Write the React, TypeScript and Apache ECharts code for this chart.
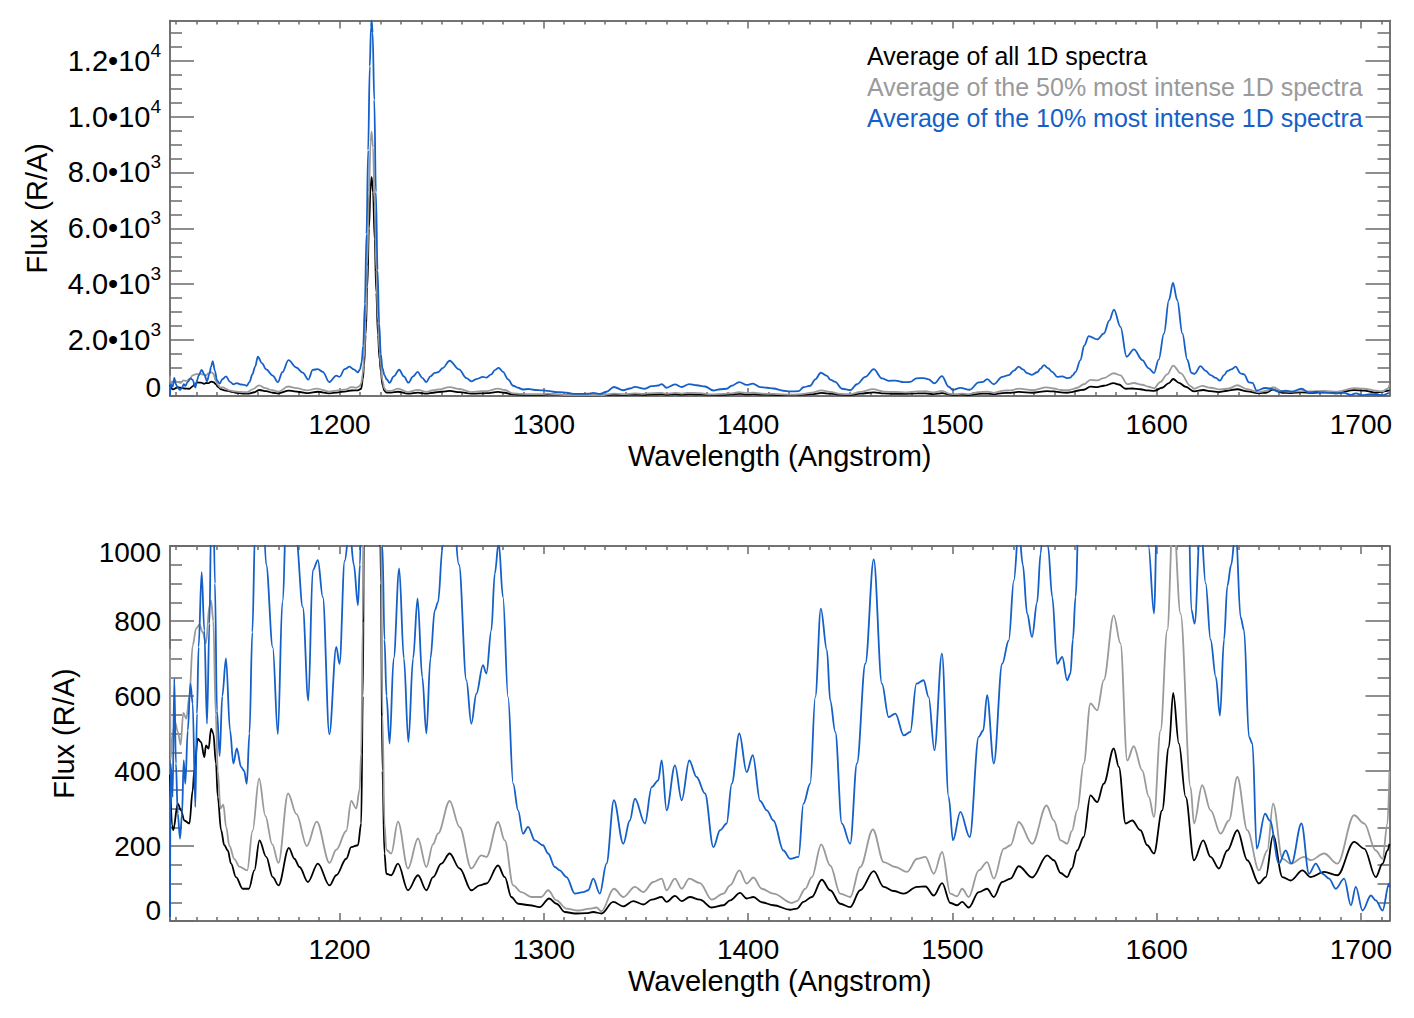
import React, { useEffect, useRef } from "react";
import * as echarts from "echarts";

// ---------- data (wavelength in Angstrom, flux in R/A) ----------
const blackSpectrum: [number, number][] = [
  [1117.0, 390], [1118.0, 255], [1118.6, 242], [1120.8, 313], [1122.4, 295], [1124.0, 268],
  [1126.5, 260], [1128.1, 348], [1128.9, 402], [1130.6, 486], [1132.2, 477], [1133.8, 437],
  [1134.6, 468], [1135.9, 460], [1137.1, 513], [1138.2, 500], [1139.5, 420], [1140.4, 331],
  [1142.0, 242], [1143.6, 202], [1145.3, 188], [1146.9, 153], [1149.3, 117], [1152.6, 86],
  [1155.6, 86], [1158.3, 135], [1160.8, 215], [1164.1, 171], [1167.3, 117], [1170.1, 95],
  [1175.2, 195], [1177.9, 166], [1180.4, 144], [1184.5, 104], [1189.4, 153], [1195.1, 95],
  [1198.4, 122], [1203.3, 166], [1205.7, 197], [1209.0, 202], [1210.6, 260], [1211.4, 600],
  [1212.0, 1100], [1212.8, 2200], [1213.6, 3900], [1214.4, 6000], [1215.2, 7500], [1215.7, 7830],
  [1216.4, 7300], [1217.2, 5600], [1218.0, 3700], [1218.8, 2200], [1219.6, 1300], [1220.2, 900],
  [1221.0, 400], [1222.0, 180], [1222.9, 126], [1225.3, 122], [1228.6, 153], [1233.5, 82],
  [1238.4, 122], [1242.5, 82], [1245.8, 117], [1249.8, 153], [1253.9, 180], [1258.8, 140],
  [1264.5, 82], [1268.6, 95], [1271.9, 100], [1277.6, 148], [1280.9, 117], [1284.1, 64],
  [1287.4, 46], [1293.1, 42], [1298.0, 37], [1302.6, 60], [1306.2, 46], [1310.3, 24],
  [1315.2, 20], [1320.9, 21], [1324.2, 24], [1328.2, 20], [1334.0, 51], [1338.9, 39],
  [1343.8, 53], [1348.7, 44], [1352.8, 57], [1357.7, 64], [1360.1, 51], [1364.2, 67],
  [1367.5, 53], [1371.5, 64], [1376.4, 57], [1382.2, 36], [1387.9, 42], [1391.2, 55],
  [1396.1, 75], [1399.3, 60], [1402.6, 64], [1406.7, 50], [1412.4, 42], [1420.6, 30],
  [1423.9, 33], [1427.1, 51], [1431.2, 64], [1436.1, 110], [1440.2, 82], [1445.1, 46],
  [1450.0, 37], [1454.9, 82], [1461.5, 133], [1466.4, 91], [1471.3, 80], [1476.2, 73],
  [1482.7, 91], [1486.8, 92], [1490.9, 68], [1495.0, 101], [1499.0, 48], [1502.3, 42],
  [1504.8, 51], [1508.0, 36], [1512.9, 77], [1517.0, 86], [1520.3, 64], [1524.4, 104],
  [1528.5, 113], [1532.5, 146], [1539.1, 116], [1546.4, 175], [1549.7, 162], [1553.0, 128],
  [1556.2, 117], [1558.5, 140], [1561.1, 188], [1564.3, 224], [1567.6, 335], [1570.9, 317],
  [1574.1, 366], [1579.0, 460], [1581.5, 411], [1584.8, 260], [1588.0, 268], [1592.1, 242],
  [1595.4, 202], [1598.7, 180], [1602.7, 295], [1606.0, 464], [1608.1, 608], [1610.9, 473],
  [1614.2, 331], [1618.3, 162], [1622.8, 215], [1626.4, 171], [1630.5, 140], [1634.6, 188],
  [1639.5, 242], [1644.4, 162], [1650.1, 100], [1653.4, 117], [1657.0, 228], [1661.6, 117],
  [1665.6, 108], [1671.4, 135], [1675.4, 117], [1682.0, 131], [1688.5, 122], [1696.7, 211],
  [1701.6, 193], [1707.3, 117], [1710.6, 153], [1713.0, 188], [1714.0, 206],
];

const graySpectrum: [number, number][] = [
  [1117.0, 726], [1117.3, 430], [1118.0, 490], [1119.5, 530], [1120.8, 505], [1122.2, 470],
  [1123.5, 555], [1125.0, 540], [1126.5, 600], [1128.1, 735], [1129.8, 780], [1131.4, 790],
  [1133.0, 770], [1134.6, 740], [1136.3, 840], [1137.1, 855], [1138.2, 800], [1139.4, 550],
  [1140.4, 400], [1141.7, 300], [1143.1, 310], [1144.5, 250], [1146.1, 200], [1148.5, 165],
  [1151.0, 145], [1154.8, 135], [1157.4, 240], [1160.6, 380], [1163.7, 280], [1167.0, 205],
  [1170.1, 155], [1174.8, 340], [1178.9, 285], [1184.0, 200], [1188.8, 265], [1195.1, 155],
  [1198.4, 190], [1203.3, 240], [1205.7, 320], [1208.2, 300], [1209.8, 350], [1210.6, 450],
  [1211.4, 800], [1212.0, 1350], [1212.8, 2700], [1213.6, 4700], [1214.4, 7300], [1215.2, 9100],
  [1215.7, 9460], [1216.4, 8900], [1217.2, 6800], [1218.0, 4500], [1218.8, 2700], [1219.6, 1600],
  [1220.2, 1100], [1221.0, 550], [1222.0, 260], [1222.9, 190], [1225.3, 180], [1228.6, 265],
  [1233.5, 140], [1238.4, 220], [1242.5, 144], [1245.8, 205], [1248.2, 233], [1253.9, 320],
  [1258.8, 250], [1264.5, 140], [1269.4, 175], [1271.9, 171], [1277.6, 264], [1280.9, 215],
  [1285.0, 95], [1289.0, 77], [1293.9, 64], [1298.8, 64], [1302.1, 82], [1306.2, 55],
  [1311.1, 33], [1316.8, 28], [1322.5, 33], [1325.8, 36], [1328.2, 26], [1334.3, 86],
  [1338.9, 64], [1344.6, 91], [1348.7, 77], [1353.6, 104], [1357.7, 113], [1360.1, 82],
  [1364.2, 113], [1367.5, 86], [1371.2, 113], [1376.4, 101], [1382.2, 57], [1387.9, 73],
  [1391.2, 95], [1395.7, 135], [1399.3, 100], [1402.6, 116], [1406.7, 86], [1412.4, 73],
  [1421.4, 48], [1423.9, 53], [1428.0, 86], [1431.2, 117], [1435.8, 204], [1440.2, 148],
  [1445.1, 73], [1450.0, 64], [1454.9, 144], [1461.1, 244], [1466.4, 157], [1472.1, 144],
  [1477.8, 131], [1482.7, 166], [1486.8, 171], [1490.9, 126], [1495.0, 184], [1499.0, 73],
  [1502.3, 66], [1504.8, 86], [1508.0, 64], [1512.9, 135], [1517.0, 157], [1520.3, 113],
  [1525.2, 193], [1528.5, 202], [1532.5, 264], [1539.1, 206], [1546.1, 308], [1549.7, 268],
  [1553.0, 215], [1556.2, 206], [1558.5, 240], [1561.1, 295], [1564.3, 420], [1567.6, 580],
  [1570.9, 562], [1574.1, 642], [1579.0, 815], [1582.3, 740], [1585.6, 428], [1588.8, 466],
  [1592.9, 402], [1596.2, 331], [1598.7, 277], [1601.9, 508], [1605.2, 775], [1608.1, 1090],
  [1611.7, 820], [1616.6, 357], [1618.3, 260], [1622.3, 362], [1626.4, 295], [1631.3, 233],
  [1635.4, 268], [1639.5, 384], [1644.4, 242], [1650.1, 135], [1654.2, 188], [1657.0, 313],
  [1661.6, 166], [1665.6, 153], [1672.2, 171], [1675.4, 162], [1682.0, 180], [1688.5, 153],
  [1696.7, 282], [1701.6, 260], [1707.3, 188], [1710.6, 166], [1713.0, 260], [1714.0, 400],
];

const blueSpectrum: [number, number][] = [
  [1117.0, 11], [1117.3, 420], [1118.3, 331], [1119.1, 646], [1119.9, 420], [1120.8, 286],
  [1121.9, 220], [1122.9, 286], [1123.7, 428], [1124.5, 366], [1125.7, 508], [1127.0, 633],
  [1128.1, 580], [1129.4, 304], [1130.2, 553], [1131.0, 731], [1132.5, 930], [1133.8, 775],
  [1135.1, 526], [1136.3, 793], [1137.1, 1050], [1137.9, 1250], [1139.0, 900], [1140.0, 560],
  [1141.3, 440], [1142.6, 600], [1144.4, 700], [1146.4, 508], [1148.0, 420], [1149.7, 460],
  [1151.8, 411], [1153.3, 400], [1154.6, 366], [1155.9, 500], [1157.3, 770], [1158.7, 1050],
  [1160.0, 1405], [1162.0, 1180], [1164.1, 950], [1167.3, 730], [1169.8, 498], [1172.0, 850],
  [1175.0, 1286], [1178.8, 1020], [1182.0, 837], [1184.7, 588], [1186.9, 935], [1189.4, 962],
  [1191.8, 864], [1195.0, 498], [1198.4, 731], [1200.0, 686], [1202.5, 960], [1204.9, 1048],
  [1207.0, 950], [1209.0, 842], [1210.0, 950], [1210.8, 1200], [1211.6, 1800], [1212.4, 3300],
  [1213.2, 5800], [1214.0, 8800], [1214.8, 11800], [1215.4, 13200], [1215.7, 13440], [1216.2, 13000],
  [1217.0, 10600], [1217.8, 7300], [1218.6, 4500], [1219.4, 2600], [1220.2, 1500], [1221.0, 1000],
  [1222.0, 750], [1223.0, 600], [1224.5, 473], [1226.5, 700], [1229.2, 940], [1231.5, 700],
  [1233.7, 477], [1236.0, 700], [1238.2, 860], [1240.5, 650], [1242.5, 500], [1244.5, 700],
  [1246.6, 828], [1248.2, 850], [1250.5, 1000], [1253.9, 1262], [1258.5, 950], [1262.1, 642],
  [1264.5, 526], [1267.0, 606], [1270.2, 682], [1271.9, 660], [1274.3, 775], [1276.0, 926],
  [1277.9, 1010], [1280.0, 864], [1282.5, 597], [1285.0, 366], [1287.4, 295], [1289.8, 233],
  [1292.3, 251], [1295.6, 215], [1299.6, 202], [1302.1, 180], [1305.4, 144], [1307.8, 135],
  [1311.1, 117], [1315.2, 73], [1319.3, 77], [1321.7, 82], [1324.2, 113], [1327.4, 73],
  [1330.7, 153], [1334.3, 322], [1338.9, 206], [1342.1, 268], [1344.6, 326], [1349.5, 260],
  [1352.8, 357], [1356.0, 375], [1357.7, 428], [1360.1, 295], [1364.2, 415], [1367.5, 322],
  [1371.2, 428], [1374.8, 384], [1378.9, 340], [1383.0, 197], [1386.3, 242], [1389.5, 260],
  [1392.0, 366], [1395.7, 500], [1399.3, 397], [1402.3, 442], [1405.9, 320], [1409.2, 295],
  [1412.4, 268], [1417.3, 188], [1420.6, 166], [1424.7, 171], [1427.1, 313], [1430.4, 366],
  [1432.9, 597], [1435.6, 833], [1438.6, 722], [1440.2, 588], [1442.7, 504], [1445.9, 260],
  [1450.0, 206], [1453.3, 420], [1457.4, 686], [1461.5, 964], [1465.5, 633], [1468.8, 544],
  [1472.1, 553], [1476.2, 495], [1479.4, 504], [1482.4, 633], [1485.9, 642], [1488.4, 597],
  [1491.2, 455], [1494.9, 713], [1498.2, 331], [1500.3, 215], [1503.9, 291], [1508.5, 224],
  [1512.9, 491], [1515.1, 508], [1517.0, 602], [1520.3, 420], [1524.4, 686], [1527.6, 748],
  [1530.1, 908], [1532.5, 1048], [1534.5, 950], [1536.6, 820], [1539.0, 757], [1541.5, 850],
  [1543.2, 980], [1544.9, 1107], [1546.8, 1000], [1548.9, 864], [1551.3, 686], [1553.8, 704],
  [1556.2, 642], [1557.8, 660], [1559.0, 750], [1560.3, 864], [1562.7, 1286], [1564.5, 1800],
  [1566.8, 2143], [1570.9, 2024], [1574.2, 2238], [1576.8, 2700], [1579.1, 3095], [1582.3, 2476],
  [1585.3, 1405], [1588.9, 1667], [1593.0, 1286], [1596.0, 1000], [1598.7, 820], [1601.0, 1300],
  [1603.6, 2238], [1606.0, 3429], [1608.0, 4048], [1610.1, 3429], [1612.6, 2238], [1615.0, 1300],
  [1617.0, 830], [1618.6, 793], [1621.5, 1071], [1624.0, 900], [1626.4, 750], [1629.0, 650],
  [1631.0, 548], [1633.0, 750], [1634.6, 893], [1636.5, 950], [1638.7, 1048], [1641.1, 810],
  [1642.8, 775], [1645.2, 491], [1646.9, 473], [1649.0, 193], [1653.1, 286], [1655.4, 268],
  [1659.9, 153], [1663.2, 188], [1666.0, 153], [1670.9, 260], [1674.6, 126], [1677.9, 153],
  [1681.2, 126], [1684.4, 113], [1687.7, 86], [1691.8, 113], [1695.1, 42], [1697.5, 91],
  [1700.8, 28], [1704.9, 68], [1707.3, 55], [1710.6, 28], [1713.8, 100], [1714.0, 90],
];

const seriesNames = [
  "Average of all 1D spectra",
  "Average of the 50% most intense 1D spectra",
  "Average of the 10% most intense 1D spectra",
];
const seriesColors = ["#000000", "#9a9a9a", "#1560c8"];

const wavelengthTicks = [1200, 1300, 1400, 1500, 1600, 1700];
const topFluxTicks = [0, 2000, 4000, 6000, 8000, 10000, 12000];
const topFluxTickLabels: [string, string][] = [
  ["0", ""], ["2.0•10", "3"], ["4.0•10", "3"], ["6.0•10", "3"],
  ["8.0•10", "3"], ["1.0•10", "4"], ["1.2•10", "4"],
];
const bottomFluxTicks = [0, 200, 400, 600, 800, 1000];
const bottomFluxTickLabels = ["0", "200", "400", "600", "800", "1000"];

const X_MIN = 1117;
const X_MAX = 1714;
const TOP_Y_MAX = 13440;
const BOTTOM_Y_MAX = 1000;

// ---------- helpers ----------
const FONT = '"Liberation Sans", Arial, Helvetica, sans-serif';
const AXIS_COLOR = "#6a6a6a";

function stepList(start: number, stop: number, step: number, skip: number) {
  const out: number[] = [];
  for (let v = start; v <= stop + 1e-9; v += step) {
    if (Math.abs(v % skip) > 1e-6) out.push(v);
  }
  return out;
}

const xMinorTicks = stepList(1120, 1710, 10, 100);
const topYMinorTicks = stepList(500, 13000, 500, 2000);
const bottomYMinorTicks = stepList(50, 950, 50, 200);

function buildPanel(
  g: number,
  yMax: number,
  yMajor: number[],
  yMinor: number[],
  yFormatter: (v: number) => string,
  yRich: any,
  yNameGap: number
) {
  const lineStyle = { color: AXIS_COLOR, width: 1.5 };
  const axisLine = { show: true, onZero: false, lineStyle };
  const xBase = {
    type: "value",
    gridIndex: g,
    min: X_MIN,
    max: X_MAX,
    splitLine: { show: false },
    axisPointer: { show: false },
    nameMoveOverlap: false,
  };
  const yBase = {
    type: "value",
    gridIndex: g,
    min: 0,
    max: yMax,
    splitLine: { show: false },
    nameMoveOverlap: false,
  };
  const tick = (vals: number[], len: number) => ({
    show: true,
    inside: true,
    length: len,
    customValues: vals,
    lineStyle,
  });
  const xAxes = [
    {
      ...xBase,
      position: "bottom",
      axisLine,
      axisTick: tick(wavelengthTicks, 8),
      axisLabel: {
        show: true,
        customValues: wavelengthTicks,
        margin: 14,
        fontSize: 28,
        fontFamily: FONT,
        color: "#000",
        formatter: (v: number) => String(v),
      },
      name: "Wavelength (Angstrom)",
      nameLocation: "middle",
      nameGap: 45,
      nameTextStyle: { fontSize: 29, fontFamily: FONT, color: "#000" },
    },
    { ...xBase, position: "bottom", axisLine, axisTick: tick(xMinorTicks, 4), axisLabel: { show: false } },
    { ...xBase, position: "top", axisLine, axisTick: tick(wavelengthTicks, 8), axisLabel: { show: false } },
    { ...xBase, position: "top", axisLine, axisTick: tick(xMinorTicks, 4), axisLabel: { show: false } },
  ];
  const yAxes = [
    {
      ...yBase,
      position: "left",
      axisLine,
      axisTick: tick(yMajor, 24),
      axisLabel: {
        show: true,
        customValues: yMajor,
        margin: 9,
        fontSize: 28,
        fontFamily: FONT,
        color: "#000",
        formatter: yFormatter,
        rich: yRich,
      },
      name: "Flux (R/A)",
      nameLocation: "middle",
      nameGap: yNameGap,
      nameTextStyle: { fontSize: 29, fontFamily: FONT, color: "#000" },
    },
    { ...yBase, position: "left", axisLine, axisTick: tick(yMinor, 12), axisLabel: { show: false } },
    { ...yBase, position: "right", axisLine, axisTick: tick(yMajor, 24), axisLabel: { show: false } },
    { ...yBase, position: "right", axisLine, axisTick: tick(yMinor, 12), axisLabel: { show: false } },
  ];
  const spectra = [blackSpectrum, graySpectrum, blueSpectrum];
  const series = spectra.map((d, i) => ({
    type: "line",
    name: seriesNames[i],
    xAxisIndex: g * 4,
    yAxisIndex: g * 4,
    data: d,
    showSymbol: false,
    symbol: "none",
    clip: true,
    smooth: 0.35,
    smoothMonotone: "x",
    lineStyle: { color: seriesColors[i], width: 1.8 },
    itemStyle: { color: seriesColors[i] },
    z: 2 + i,
  }));
  return { xAxes, yAxes, series };
}

export default function App() {
  const ref = useRef<HTMLDivElement>(null);

  useEffect(() => {
    if (!ref.current) return;
    const chart = echarts.init(ref.current, undefined, { renderer: "svg" });

    const baseTok = { fontSize: 28, fontFamily: FONT, color: "#000" };
    const topRich = {
      a: { fontSize: 29, fontFamily: FONT, color: "#000", lineHeight: 40 },
      s: { fontSize: 19, fontFamily: FONT, color: "#000", lineHeight: 25, verticalAlign: "top" },
      lo: { ...baseTok, padding: [0, 0, 18, 0] },
    };
    const topFmt = (v: number) => {
      const i = topFluxTicks.indexOf(v);
      if (i < 0) return "";
      const [m, e] = topFluxTickLabels[i];
      if (v === 0) return `{lo|${m}}`;
      return `{a|${m}}{s|${e}}`;
    };
    const bottomRich = {
      n: { ...baseTok },
      lo: { ...baseTok, padding: [0, 0, 22, 0] },
      hi: { ...baseTok, padding: [12, 0, 0, 0] },
    };
    const bottomFmt = (v: number) => {
      const i = bottomFluxTicks.indexOf(v);
      if (i < 0) return "";
      const t = bottomFluxTickLabels[i];
      if (v === 0) return `{lo|${t}}`;
      if (v === BOTTOM_Y_MAX) return `{hi|${t}}`;
      return `{n|${t}}`;
    };

    const p0 = buildPanel(0, TOP_Y_MAX, topFluxTicks, topYMinorTicks, topFmt, topRich, 119);
    const p1 = buildPanel(1, BOTTOM_Y_MAX, bottomFluxTicks, bottomYMinorTicks, bottomFmt, bottomRich, 92);

    const legendY = [58, 89.5, 120.5];

    chart.setOption({
      animation: false,
      backgroundColor: "#ffffff",
      textStyle: { fontFamily: FONT },
      grid: [
        { left: 170, top: 20.5, width: 1219.5, height: 375.5, outerBoundsMode: "none", containLabel: false },
        { left: 170, top: 546, width: 1219.5, height: 375, outerBoundsMode: "none", containLabel: false },
      ],
      xAxis: [...p0.xAxes, ...p1.xAxes],
      yAxis: [...p0.yAxes, ...p1.yAxes],
      series: [...p0.series, ...p1.series],
      graphic: seriesNames.map((name, i) => ({
        type: "text",
        left: 867,
        top: legendY[i] - 15,
        silent: true,
        style: {
          text: name,
          fill: seriesColors[i],
          fontSize: 25,
          fontFamily: FONT,
        },
      })),
    });

    return () => chart.dispose();
  }, []);

  return (
    <div
      ref={ref}
      style={{ position: "absolute", left: 0, top: 0, width: 1414, height: 1018 }}
    />
  );
}
